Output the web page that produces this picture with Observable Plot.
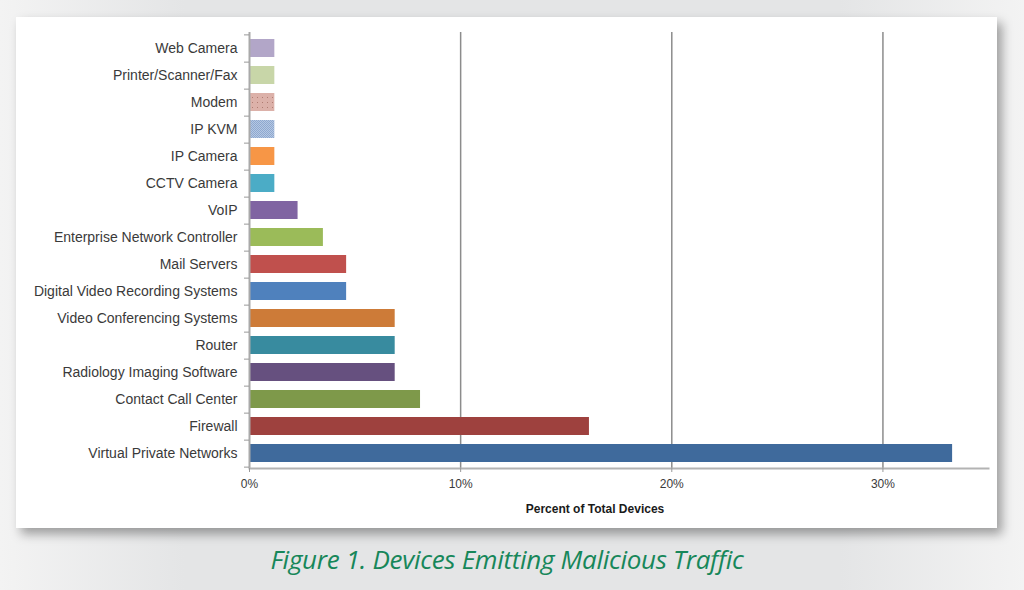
<!DOCTYPE html>
<html>
<head>
<meta charset="utf-8">
<script src="https://cdn.jsdelivr.net/npm/d3@7"></script>
<script src="https://cdn.jsdelivr.net/npm/@observablehq/plot@0.6"></script>
<style>
  html, body { margin: 0; padding: 0; }
  body {
    width: 1024px; height: 590px; position: relative; overflow: hidden;
    background: linear-gradient(to right, #f3f3f3 0%, #e4e5e6 18%, #e4e5e6 82%, #f3f3f3 100%);
    font-family: "Liberation Sans", Arial, sans-serif;
  }
  #panel {
    position: absolute; left: 16px; top: 17px; width: 981px; height: 511px;
    background: #ffffff; box-shadow: 5px 6px 10px rgba(0,0,0,0.35);
  }
  #chart { position: absolute; left: 0; top: 0; }
  #xlabel {
    position: absolute; left: 445px; width: 300px; top: 502px; text-align: center;
    font: bold 12px "Liberation Sans", Arial, sans-serif; color: #1a1a1a;
  }
  #caption {
    position: absolute; left: 0; width: 1014px; top: 541px; text-align: center;
    font: italic 26px "Open Sans", sans-serif; color: #17875a; letter-spacing: -0.3px;
  }
</style>
</head>
<body>
<div id="panel"></div>
<div id="chart"></div>
<div id="xlabel">Percent of Total Devices</div>
<div id="caption">Figure 1. Devices Emitting Malicious Traffic</div>
<script>
const categories = [
  "Web Camera", "Printer/Scanner/Fax", "Modem", "IP KVM", "IP Camera", "CCTV Camera",
  "VoIP", "Enterprise Network Controller", "Mail Servers", "Digital Video Recording Systems",
  "Video Conferencing Systems", "Router", "Radiology Imaging Software", "Contact Call Center",
  "Firewall", "Virtual Private Networks"
];
const values = [1.2, 1.2, 1.2, 1.2, 1.2, 1.2, 2.3, 3.5, 4.6, 4.6, 6.9, 6.9, 6.9, 8.1, 16.1, 33.3];
const colors = [
  "#b2a6c8", "#c8d6a8", "url(#pModem)", "url(#pKvm)", "#f79646", "#4bacc6",
  "#8064a2", "#9bbb59", "#c0504d", "#4f81bd", "#cd7b38", "#388b9f",
  "#66507f", "#7e994a", "#9e413e", "#3f6a9c"
];
const xTicks = [0, 10, 20, 30];
const gridTicks = [10, 20, 30];

const data = categories.map((name, i) => ({name, value: values[i], fill: colors[i]}));

const H = 530, mT = 32, mB = 62;
const halfStep = (H - mT - mB) / categories.length / 2;

const plot = Plot.plot({
  width: 1024,
  height: H,
  marginLeft: 249,
  marginRight: 36,
  marginTop: mT,
  marginBottom: mB,
  style: {background: "transparent", color: "#3a3a3a", fontFamily: "'Liberation Sans', Arial, sans-serif"},
  x: {domain: [0, 35], label: null},
  y: {domain: categories, paddingInner: 0.34, paddingOuter: 0.17, label: null},
  color: {type: "identity"},
  marks: [
    Plot.ruleX(gridTicks, {stroke: "#8c8c8c", strokeWidth: 1.5}),
    Plot.barX(data, {x: "value", y: "name", fill: "fill"}),
    Plot.ruleX([0], {stroke: "#a9a9a9", strokeWidth: 2}),
    Plot.frame({anchor: "bottom", stroke: "#b3b3b3", strokeWidth: 2}),
    Plot.axisY({tickSize: 0, tickPadding: 12, fontSize: 14}),
    Plot.axisY({tickSize: 5, tickFormat: () => "", dy: halfStep, stroke: "#999"}),
    Plot.axisY({ticks: [categories[0]], tickSize: 5, tickFormat: () => "", dy: -halfStep, stroke: "#999"}),
    Plot.axisX({ticks: xTicks, tickFormat: d => d + "%", tickSize: 4, tickPadding: 7, fontSize: 12, stroke: "#999"})
  ]
});

const svg = d3.select(plot);
const defs = svg.insert("defs", ":first-child");
const pm = defs.append("pattern").attr("id", "pModem").attr("width", 5).attr("height", 5).attr("patternUnits", "userSpaceOnUse");
pm.append("rect").attr("width", 5).attr("height", 5).attr("fill", "#dcb1a9");
pm.append("rect").attr("x", 2).attr("y", 2).attr("width", 1).attr("height", 1).attr("fill", "#b07c72");
const pk = defs.append("pattern").attr("id", "pKvm").attr("width", 2).attr("height", 2).attr("patternUnits", "userSpaceOnUse");
pk.append("rect").attr("width", 2).attr("height", 2).attr("fill", "#b6c8e2");
pk.append("rect").attr("width", 1).attr("height", 1).attr("fill", "#8ea8d0");
pk.append("rect").attr("x", 1).attr("y", 1).attr("width", 1).attr("height", 1).attr("fill", "#8ea8d0");

document.getElementById("chart").appendChild(plot);
</script>
</body>
</html>
